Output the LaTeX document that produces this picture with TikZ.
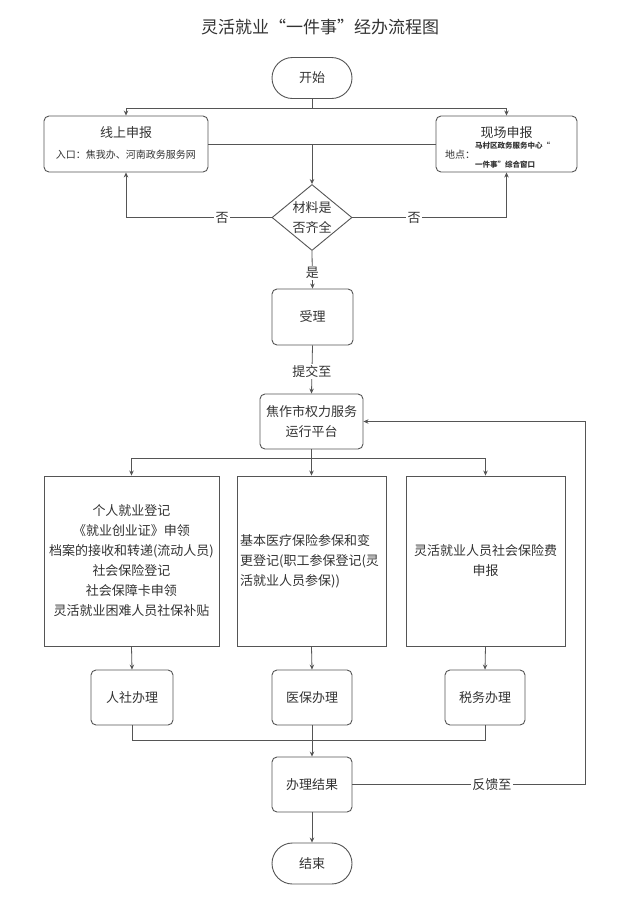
\documentclass[tikz,border=0pt]{standalone}
\usepackage{fontspec}
\setmainfont{Noto Sans CJK SC}
\usetikzlibrary{arrows.meta,shapes.geometric,shapes.misc}
\definecolor{ln}{HTML}{555555}
\definecolor{tx}{HTML}{333333}
\begin{document}
\begin{tikzpicture}[x=1pt,y=-1pt,
  every node/.style={text=tx,font=\fontsize{13}{20}\selectfont,inner sep=0pt},
  box/.style={draw=ln,line width=0.9pt,rounded corners=5pt,align=center},
  sbox/.style={draw=ln,line width=0.9pt,align=center},
  term/.style={draw=ln,line width=0.9pt,rounded rectangle,minimum width=80pt,minimum height=41pt},
  dec/.style={draw=ln,line width=0.9pt,diamond,aspect=1.2,minimum width=80pt,minimum height=66pt,align=center},
  conn/.style={draw=ln,line width=0.8pt},
  arr/.style={conn,-{Stealth[length=5pt,width=4.5pt]}},
  lab/.style={fill=white,inner sep=1.5pt}]
\useasboundingbox (0,0) rectangle (640,898);
\fill[white] (0,0) rectangle (640,898);
\node (title) at (320,27) {\fontsize{17}{20}\selectfont 灵活就业“一件事”经办流程图};
\node[term] (start) at (312,78) {开始};
\node[box,minimum width=164pt,minimum height=56pt] (online) at (126,144) {};
\node at (126,133) {线上申报};
\node at (126,155) {\fontsize{10}{12}\selectfont 入口：焦我办、河南政务服务网};
\node[box,minimum width=141pt,minimum height=56pt] (onsite) at (506.5,144) {};
\node at (506.5,133) {现场申报};
\node at (460,155) {\fontsize{10}{12}\selectfont 地点：};
\node[anchor=west,align=left] at (475,155) {\fontsize{7.5}{9}\selectfont\bfseries 马村区政务服务中心“\\[-1pt]\fontsize{7.5}{9}\selectfont\bfseries 一件事”综合窗口};
\node[dec] (dia) at (312,217.5) {材料是\\否齐全};
\node[box,minimum width=81pt,minimum height=56pt] (sl) at (312.5,317) {受理};
\node[box,minimum width=103pt,minimum height=55pt] (pt) at (311.5,421.5) {焦作市权力服务\\运行平台};
\node[sbox,minimum width=175pt,minimum height=170pt] (b1) at (131.5,561) {个人就业登记\\《就业创业证》申领\\档案的接收和转递(流动人员)\\社会保险登记\\社会保障卡申领\\灵活就业困难人员社保补贴};
\node[sbox,minimum width=149pt,minimum height=170pt] (b2) at (311.5,561) {};
\node[align=left,anchor=west] at (240,561) {基本医疗保险参保和变\\更登记(职工参保登记(灵\\活就业人员参保))};
\node[sbox,minimum width=159pt,minimum height=170pt] (b3) at (485.5,561) {灵活就业人员社会保险费\\申报};
\node[box,minimum width=82pt,minimum height=55pt] (h1) at (132,697.5) {人社办理};
\node[box,minimum width=80pt,minimum height=55pt] (h2) at (312,697.5) {医保办理};
\node[box,minimum width=80pt,minimum height=55pt] (h3) at (485,697.5) {税务办理};
\node[box,minimum width=80pt,minimum height=55pt] (res) at (312,784.5) {办理结果};
\node[term] (end) at (312,863.5) {结束};
\coordinate (fb) at (585,784.5);
% connectors
\draw[conn] (start.south) -- (312,108);
\draw[arr] (312,108) -| (online.north);
\draw[arr] (312,108) -| (onsite.north);
\draw[arr] (online.east) -| (dia.north);
\draw[conn] (onsite.west) -- (online.east -| dia.north);
\draw[arr] (dia.west) -| node[lab,pos=0.17]{否} (online.south);
\draw[arr] (dia.east) -| node[lab,pos=0.2]{否} (onsite.south);
\draw[arr] (dia.south) -- node[lab,pos=0.58]{是} (sl.north);
\draw[arr] (sl.south) -- node[lab,pos=0.55]{提交至} (pt.north);
\draw[conn] (pt.south) -- (311.5,458);
\draw[arr] (311.5,458) -| (b1.north);
\draw[arr] (311.5,458) -- (b2.north);
\draw[arr] (311.5,458) -| (b3.north);
\draw[arr] (b1.south) -- (h1.north);
\draw[arr] (b2.south) -- (h2.north);
\draw[arr] (b3.south) -- (h3.north);
\draw[conn] (h1.south) |- (h3.south |- 0,740) -- (h3.south);
\draw[arr] (h2.south) -- (res.north);
\draw[arr] (res.east) -- node[lab,pos=0.6]{反馈至} (fb) |- (pt.east);
\draw[arr] (res.south) -- (end.north);
\end{tikzpicture}
\end{document}
